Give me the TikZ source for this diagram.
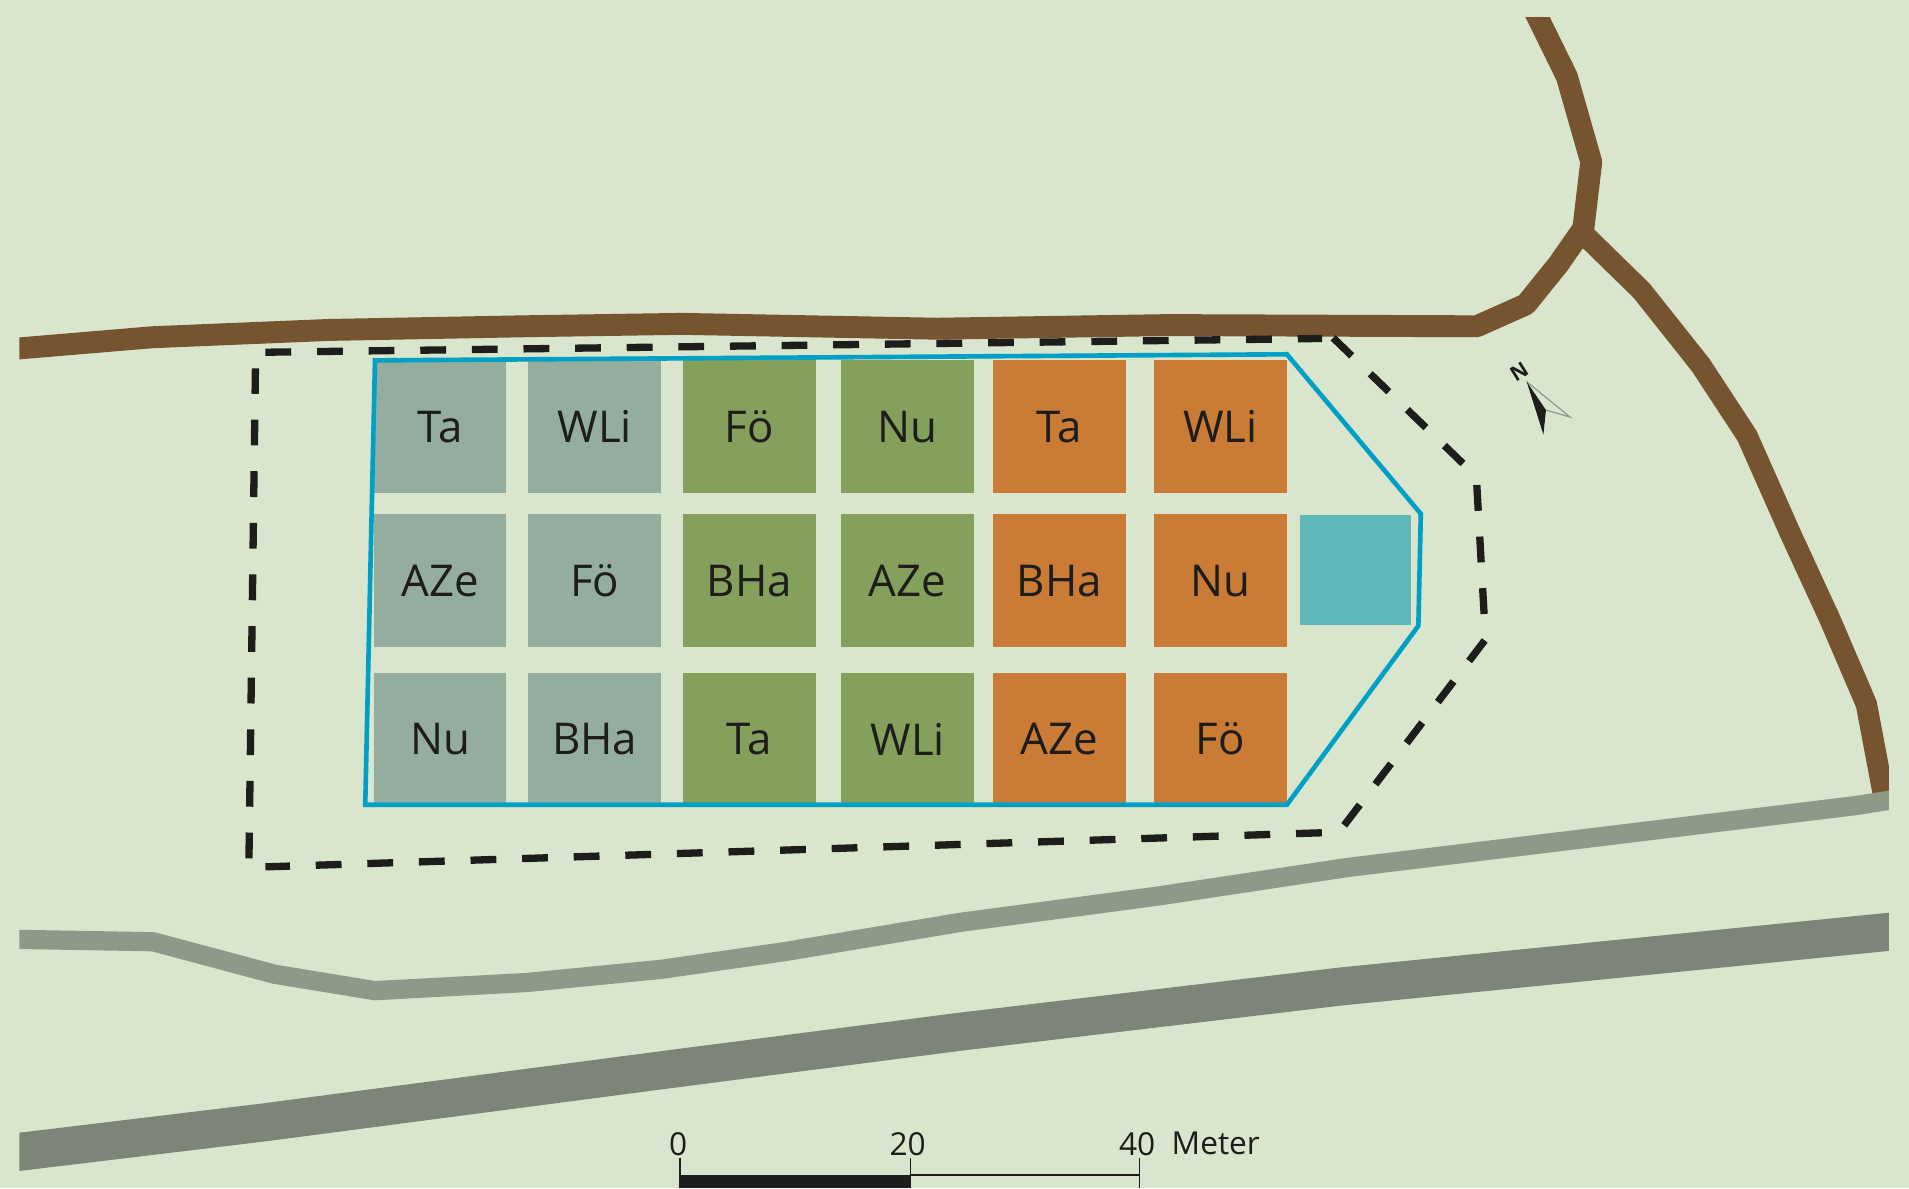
\documentclass[tikz,border=0pt]{standalone}
\usepackage{fontspec}
\setmainfont{Open Sans}
\definecolor{bgc}{HTML}{D9E6CD}
\definecolor{grayt}{HTML}{95AD9F}
\definecolor{greent}{HTML}{84A05C}
\definecolor{oranget}{HTML}{CA7B36}
\definecolor{tealt}{HTML}{60B8BB}
\definecolor{bluel}{HTML}{00A0C6}
\definecolor{brownr}{HTML}{75542F}
\definecolor{greyr}{HTML}{8E9A87}
\definecolor{darkr}{HTML}{7C8578}
\definecolor{inkc}{HTML}{1D1D1B}
\tikzset{
  tile/.style={minimum width=54.5pt,minimum height=54.5pt,inner sep=0pt,text=inkc,font=\fontsize{18}{20}\selectfont},
  gt/.style={tile,fill=grayt},
  gr/.style={tile,fill=greent},
  or/.style={tile,fill=oranget},
  road/.style={line join=round},
  bound/.style={inkc,line width=3pt,dash pattern=on 10.6pt off 10.6pt},
  lab/.style={text=inkc,inner sep=0pt,font=\fontsize{13}{15}\selectfont}
}
\begin{document}
\begin{tikzpicture}[x=0.5pt,y=-0.5pt]
\useasboundingbox (0,0) rectangle (1568,975.8);
\fill[bgc] (0,0) rectangle (1568,975.8);
\begin{scope}
\clip (16,14) rectangle (1551.5,975.8);
\draw[road,brownr,line width=9pt] (0,287.5) -- (125,277) -- (270,271) -- (430,268) -- (560,266) -- (770,270) -- (960,267) -- (1213,268) -- (1253.4,250) -- (1280,217) -- (1300.5,187.6) -- (1307,133) -- (1287,63) -- (1258,4);
\draw[road,brownr,line width=8.75pt] (1300.5,192) -- (1348.4,238.8) -- (1397,300) -- (1435,358) -- (1470,437) -- (1503.2,509) -- (1533,578.5) -- (1546.8,651.5) -- (1548,658);
\draw[road,greyr,line width=7.9pt] (0,771.3) -- (125.7,773.5) -- (226,800.3) -- (308,813.7) -- (432.5,807) -- (543,796.2) -- (644,781.7) -- (788.6,757.6) -- (951,736) -- (1106.9,712.5) -- (1523.9,661.7) -- (1560,656);
\draw[road,darkr,line width=15.6pt] (0,948) -- (216,922) -- (553,877.8) -- (788.6,847.4) -- (1101.8,810.2) -- (1560,764.5);
\end{scope}
% dashed boundary, each side starting with a dash
\coordinate (da1) at (218,289.3);
\coordinate (da2) at (1086,278);
\coordinate (db1) at (1095,277.5);
\coordinate (db2) at (1204,383);
\coordinate (dc1) at (1213,398.4);
\coordinate (dc2) at (1219,504.5);
\coordinate (dd1) at (1219.5,526);
\coordinate (dd2) at (1104,678);
\coordinate (de1) at (1085.7,684);
\coordinate (de2) at (218,712);
\coordinate (df1) at (204.5,705);
\coordinate (df2) at (209.8,302.5);
\draw[bound] (da1) -- (da2);
\draw[bound] (db1) -- (db2);
\draw[bound] (dc1) -- (dc2);
\draw[bound] (dd1) -- (dd2);
\draw[bound] (de1) -- (de2);
\draw[bound] (df1) -- (df2);
% tiles
\node[gt] (a1) at (361.5,350.5) {Ta};
\node[gt] (a2) at (488.5,350.5) {WLi};
\node[gr] (a3) at (615.5,350.5) {Fö};
\node[gr] (a4) at (745.5,350.5) {Nu};
\node[or] (a5) at (870,350.5) {Ta};
\node[or] (a6) at (1002.5,350.5) {WLi};
\node[gt] (b1) at (361.5,477) {AZe};
\node[gt] (b2) at (488.5,477) {Fö};
\node[gr] (b3) at (615.5,477) {BHa};
\node[gr] (b4) at (745.5,477) {AZe};
\node[or] (b5) at (870,477) {BHa};
\node[or] (b6) at (1002.5,477) {Nu};
\node[gt] (c1) at (361.5,607) {Nu};
\node[gt] (c2) at (488.5,607) {BHa};
\node[gr] (c3) at (615.5,607) {Ta};
\node[gr] (c4) at (745.5,607) {WLi};
\node[or] (c5) at (870,607) {AZe};
\node[or] (c6) at (1002.5,607) {Fö};
\node[fill=tealt,minimum width=45.5pt,minimum height=45pt,inner sep=0pt] (pond) at (1113.5,468) {};
% site outline
\draw[bluel,line width=1.9pt,line join=miter] (308,296) -- (1057,291) -- (1167,422) -- (1165,514) -- (1057,661) -- (300,661) -- cycle;
% north arrow
\coordinate (ntip) at (1254,313.5);
\coordinate (nin) at (1269.8,336.8);
\coordinate (nr) at (1289.6,342.6);
\coordinate (nb) at (1267.7,357);
\draw[greyr,line width=0.5pt] (ntip) -- (nr) -- (nin);
\fill[inkc] (ntip) -- (nin) -- (nb) -- cycle;
\node[text=inkc,inner sep=0pt,rotate=32,font=\bfseries\fontsize{8.5}{9}\selectfont] (nl) at (1247.7,305.5) {N};
% scale bar
\coordinate (s0t) at (558.5,951);
\coordinate (s20t) at (748,951);
\coordinate (s40t) at (936,951);
\coordinate (s0) at (558.5,976);
\coordinate (s20) at (748,976);
\coordinate (s40) at (936,976);
\fill[inkc] (558.5,965) rectangle (748,975.8);
\draw[inkc,line width=0.6pt] (s0t) -- (s0);
\draw[inkc,line width=0.6pt] (s20t) -- (s20);
\draw[inkc,line width=0.6pt] (s40t) -- (s40);
\draw[inkc,line width=0.6pt] (s20 |- 0,965) -- (s40 |- 0,965);
\node[lab] (t0) at (557,939.5) {0};
\node[lab] (t20) at (745.5,939.5) {20};
\node[lab] (t40) at (934,939.5) {40};
\node[lab,anchor=west] (tm) at (962,939.5) {Meter};
\end{tikzpicture}
\end{document}
